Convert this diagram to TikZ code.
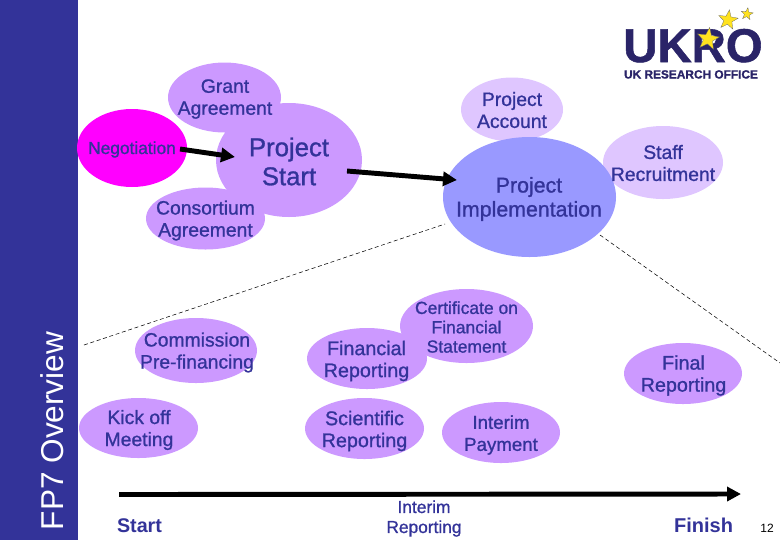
\documentclass[tikz,border=0pt]{standalone}
\usepackage{fontspec}
\setmainfont{Liberation Sans}
\newfontfamily\inkfont{Liberation Sans}[FakeBold=1.0]
\newfontfamily\inkbold{Liberation Sans Bold}
\newfontfamily\logofont{Liberation Sans Bold}[FakeBold=1.2]
\usetikzlibrary{shapes.geometric,arrows.meta,calc}
\definecolor{ink}{HTML}{333399}
\definecolor{blob}{HTML}{CC99FF}
\definecolor{pale}{HTML}{DFC6FF}
\definecolor{impl}{HTML}{9999FF}
\definecolor{nego}{HTML}{FF00FF}
\definecolor{navy}{HTML}{2A2468}
\definecolor{stary}{HTML}{FFE21F}
\tikzset{
  x=0.75pt,y=-0.75pt,
  bub/.style n args={3}{ellipse,inner sep=0pt,fill=#1,minimum width=#2*1.5pt,minimum height=#3*1.5pt},
  txt/.style={text=ink,align=center,inner sep=0pt,font=\inkfont\fontsize{14.5}{16.5}\selectfont},
  bigarrow/.style={line width=3.7pt,black,-{Triangle[length=10.5pt,width=10.5pt]}},
  guide/.style={densely dashed,line width=0.4pt,black},
  logostar/.style={star,star points=5,star point ratio=2.4,fill=stary,draw=black!60,line width=0.2pt,inner sep=0pt}
}
\begin{document}
\begin{tikzpicture}
\useasboundingbox (0,0) rectangle (780,540);
\fill[ink] (0,0) rectangle (78,540);
\node[rotate=90,anchor=base,text=white,inner sep=0pt,font=\fontsize{23.7}{26}\selectfont] (fp) at (63,431) {FP7 Overview};

% logo
\node[anchor=base,text=navy,inner sep=0pt,font=\logofont\fontsize{35.5}{36}\selectfont] (ukro) at (693,62) {UKRO};
\node[anchor=base,text=navy,inner sep=0pt,font=\logofont\fontsize{8.9}{10}\selectfont] (ukro2) at (691,78.5) {UK RESEARCH OFFICE};
\node[logostar,minimum size=17.5pt,rotate=-8] (s1) at (708,39) {};
\node[logostar,minimum size=15.5pt,rotate=-8] (s2) at (728,20) {};
\node[logostar,minimum size=9.5pt,rotate=-8] (s3) at (747,14) {};

% bubbles, back to front
\node[bub={blob}{56.5}{35}] (grant) at (224.5,97.5) {};
\node[bub={nego}{55}{39}] (neg) at (132,148) {};
\node[bub={blob}{73}{57}] (start) at (289,160) {};
\node[bub={blob}{59.5}{31}] (cons) at (205.5,218.5) {};
\node[bub={pale}{51}{32}] (acc) at (512,109.5) {};
\node[bub={pale}{60}{36.5}] (staff) at (663,162.5) {};
\node[bub={impl}{86.5}{60}] (imp) at (529.5,197) {};
\node[bub={blob}{61}{32.5}] (comm) at (196,350.5) {};
\node[bub={blob}{59.5}{30}] (kick) at (138.5,428) {};
\node[bub={blob}{66.5}{37}] (cert) at (466.5,326) {};
\node[bub={blob}{60}{30.5}] (fin) at (367,358.5) {};
\node[bub={blob}{59.5}{30.5}] (sci) at (364.5,428.5) {};
\node[bub={blob}{59}{30.5}] (pay) at (501,432.5) {};
\node[bub={blob}{59}{30.5}] (final) at (683,373.5) {};

% dashed guides
\coordinate (gl) at (84,345);
\coordinate (gr) at (780,363);
\draw[guide] (gl) -- ($(imp)+(-84.5,27)$);
\draw[guide] ($(imp)+(70.5,38)$) -- (gr);

% texts
\node[txt] (grant-t) at (225,99) {Grant\\Agreement};
\node[txt,font=\inkfont\fontsize{13}{15}\selectfont] (neg-t) at (132,149.5) {Negotiation};
\node[txt,font=\inkfont\fontsize{19.3}{21.75}\selectfont] (start-t) at (289,161.5) {Project\\Start};
\node[txt] (cons-t) at (205.5,220.5) {Consortium\\Agreement};
\node[txt] (acc-t) at (512,110) {Project\\Account};
\node[txt,font=\inkfont\fontsize{16}{18}\selectfont] (imp-t) at (529,199) {Project\\Implementation};
\node[txt] (staff-t) at (663,163) {Staff\\Recruitment};
\node[txt] (comm-t) at (197,352.5) {Commission\\Pre-financing};
\node[txt] (kick-t) at (139,430) {Kick off\\Meeting};
\node[txt,font=\inkfont\fontsize{14.8}{16.5}\selectfont] (fin-t) at (366.5,361) {Financial\\Reporting};
\node[txt,font=\inkfont\fontsize{13.1}{14.5}\selectfont] (cert-t) at (466.5,327) {Certificate on\\Financial\\Statement};
\node[txt,font=\inkfont\fontsize{14.8}{16.5}\selectfont] (sci-t) at (364.5,431) {Scientific\\Reporting};
\node[txt,font=\inkfont\fontsize{14}{16.5}\selectfont] (pay-t) at (501,435) {Interim\\Payment};
\node[txt,font=\inkfont\fontsize{14.8}{16.5}\selectfont] (final-t) at (683.5,375.5) {Final\\Reporting};
\node[txt,font=\inkfont\fontsize{13}{15}\selectfont] (rep-t) at (424,518.5) {Interim\\Reporting};
\node[txt,font=\inkbold\fontsize{14.8}{18}\selectfont] (tstart) at (139.5,525.5) {Start};
\node[txt,font=\inkbold\fontsize{15}{18}\selectfont] (tfinish) at (703.5,525) {Finish};
\node[inner sep=0pt,text=black,font=\fontsize{9}{10}\selectfont] (pg) at (767,528) {12};

% arrows
\draw[bigarrow] ($(neg)+(48,1)$) -- ($(start)+(-54,-3)$);
\draw[bigarrow] ($(start)+(58,11)$) -- ($(imp)+(-72.5,-17)$);
\coordinate (tl1) at (119,494.5);
\coordinate (tl2) at (741,494);
\draw[bigarrow] (tl1) -- (tl2);
\end{tikzpicture}
\end{document}
